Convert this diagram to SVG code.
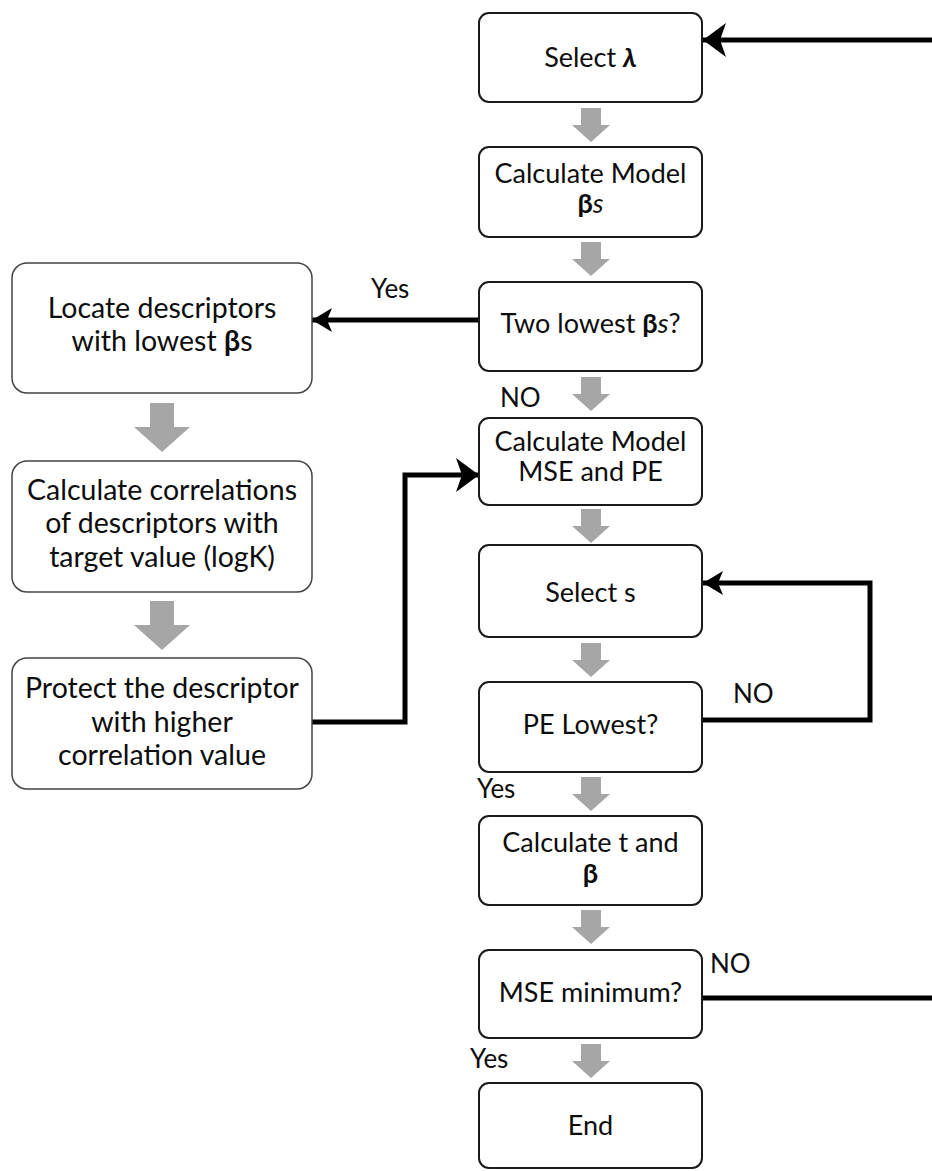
<svg xmlns="http://www.w3.org/2000/svg" width="932" height="1171" viewBox="0 0 932 1171">
  <style>
    .box { fill: #ffffff; stroke: #1a1a1a; stroke-width: 2; }
    .lbox { fill: #ffffff; stroke: #444444; stroke-width: 1.5; }
    .t { font-family: Lato, "Open Sans", "DejaVu Sans", sans-serif; font-size: 27px; fill: #0d0d0d; text-anchor: middle; }
    .tl { font-family: Lato, "Open Sans", "DejaVu Sans", sans-serif; font-size: 28.5px; fill: #0d0d0d; text-anchor: middle; }
    .lbl { font-family: Lato, "Open Sans", "DejaVu Sans", sans-serif; font-size: 26px; fill: #0d0d0d; }
    .b { font-weight: bold; }
    .bi { font-weight: bold; font-style: italic; }
    .i { font-style: italic; }
    .step { fill: #a6a6a6; }
    .wire { fill: none; stroke: #000000; stroke-width: 5; stroke-linejoin: miter; }
  </style>
  <defs>
    <!-- stealth arrowheads, sizes in user units -->
    <marker id="headL" markerUnits="userSpaceOnUse" markerWidth="26" markerHeight="38" refX="24" refY="18" orient="auto" viewBox="0 0 26 38">
      <path d="M24,18 L1,1 L7,18 L1,35 Z" fill="#000"/>
    </marker>
    <marker id="headS" markerUnits="userSpaceOnUse" markerWidth="22" markerHeight="26" refX="21" refY="12" orient="auto" viewBox="0 0 22 26">
      <path d="M21,12 L1,0 L6,12 L1,24 Z" fill="#000"/>
    </marker>
    <!-- grey step arrows -->
    <path id="stepR" class="step" d="M-10,0 H10 V17 H19 L0,34 L-19,17 H-10 Z"/>
    <path id="stepL" class="step" d="M-12,0 H12 V24 H28 L0,49 L-28,24 H-12 Z"/>
  </defs>

  <!-- step arrows between boxes -->
  <g id="steps">
    <use href="#stepR" x="591" y="108"/>
    <use href="#stepR" x="591" y="242"/>
    <use href="#stepR" x="591" y="377"/>
    <use href="#stepR" x="591" y="509"/>
    <use href="#stepR" x="591" y="643"/>
    <use href="#stepR" x="591" y="777"/>
    <use href="#stepR" x="591" y="910"/>
    <use href="#stepR" x="591" y="1044"/>
    <use href="#stepL" x="162" y="403"/>
    <use href="#stepL" x="162" y="601"/>
  </g>

  <!-- connectors -->
  <g id="connectors">
    <path class="wire" d="M932,40 H703" marker-end="url(#headL)"/>
    <path class="wire" d="M479,320 H312" marker-end="url(#headS)"/>
    <path class="wire" d="M312,722 H405 V475 H479" marker-end="url(#headL)"/>
    <path class="wire" d="M702,720 H870 V583 H703" marker-end="url(#headS)"/>
    <path class="wire" d="M702,998 H932"/>
  </g>

  <!-- right column -->
  <g id="select-lambda">
    <rect class="box" x="479" y="13" width="223" height="89" rx="10"/>
    <text class="t" x="590.5" y="67">Select <tspan class="bi">λ</tspan></text>
  </g>
  <g id="calc-betas">
    <rect class="box" x="479" y="147" width="223" height="90" rx="10"/>
    <text class="t" x="590.5" y="183">Calculate Model</text>
    <text class="t" x="590.5" y="213"><tspan class="b">β</tspan><tspan class="i">s</tspan></text>
  </g>
  <g id="two-lowest">
    <rect class="box" x="479" y="282" width="223" height="89" rx="10"/>
    <text class="t" x="590.5" y="333">Two lowest <tspan class="b">β</tspan><tspan class="i">s</tspan>?</text>
  </g>
  <g id="calc-mse-pe">
    <rect class="box" x="479" y="418" width="223" height="87" rx="10"/>
    <text class="t" x="590.5" y="451">Calculate Model</text>
    <text class="t" x="590.5" y="481">MSE and PE</text>
  </g>
  <g id="select-s">
    <rect class="box" x="479" y="545" width="223" height="92" rx="10"/>
    <text class="t" x="590.5" y="602">Select s</text>
  </g>
  <g id="pe-lowest">
    <rect class="box" x="479" y="682" width="223" height="90" rx="10"/>
    <text class="t" x="590.5" y="734">PE Lowest?</text>
  </g>
  <g id="calc-t-beta">
    <rect class="box" x="479" y="816" width="223" height="89" rx="10"/>
    <text class="t" x="590.5" y="852">Calculate t and</text>
    <text class="t" x="590.5" y="883"><tspan class="b">β</tspan></text>
  </g>
  <g id="mse-minimum">
    <rect class="box" x="479" y="950" width="223" height="88" rx="10"/>
    <text class="t" x="590.5" y="1002">MSE minimum?</text>
  </g>
  <g id="end">
    <rect class="box" x="479" y="1083" width="223" height="85" rx="10"/>
    <text class="t" x="590.5" y="1135">End</text>
  </g>

  <!-- left column -->
  <g id="locate-descriptors">
    <rect class="lbox" x="12" y="263" width="300" height="130" rx="15"/>
    <text class="tl" x="162" y="318">Locate descriptors</text>
    <text class="tl" x="162" y="351">with lowest <tspan class="b">β</tspan>s</text>
  </g>
  <g id="calc-correlations">
    <rect class="lbox" x="12" y="461" width="300" height="131" rx="15"/>
    <text class="tl" x="162" y="500">Calculate correlations</text>
    <text class="tl" x="162" y="533">of descriptors with</text>
    <text class="tl" x="162" y="567">target value (logK)</text>
  </g>
  <g id="protect-descriptor">
    <rect class="lbox" x="12" y="658" width="300" height="131" rx="15"/>
    <text class="tl" x="162" y="698">Protect the descriptor</text>
    <text class="tl" x="162" y="732">with higher</text>
    <text class="tl" x="162" y="765">correlation value</text>
  </g>

  <!-- branch labels -->
  <g id="labels">
    <text class="lbl" x="371" y="298">Yes</text>
    <text class="lbl" x="500" y="407">NO</text>
    <text class="lbl" x="733" y="703">NO</text>
    <text class="lbl" x="477" y="798">Yes</text>
    <text class="lbl" x="710" y="973">NO</text>
    <text class="lbl" x="470" y="1068">Yes</text>
  </g>
</svg>
